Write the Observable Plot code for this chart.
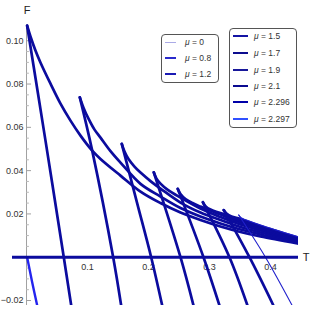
<!DOCTYPE html>
<html><head><meta charset="utf-8">
<script src="https://cdn.jsdelivr.net/npm/d3@7"></script>
<script src="https://cdn.jsdelivr.net/npm/@observablehq/plot@0.6"></script>
<style>
body{margin:0;background:#fff;}
#wrap{position:relative;width:311px;height:311px;font-family:"Liberation Sans",Arial,sans-serif;}
#wrap svg{display:block;}
.leg{position:absolute;background:#fff;border:1px solid #555;border-radius:4px;box-sizing:border-box;}
.sw{position:absolute;height:0;}
.lab{position:absolute;font-size:8.5px;color:#333;white-space:nowrap;line-height:10px;}
.lab i{font-style:italic;}
.axl{position:absolute;font-size:11px;color:#222;line-height:12px;width:12px;text-align:center;}
</style></head><body><div id="wrap"></div>
<script>
// mu values (legend labels)
const muLabels = ["0","0.8","1.2","1.5","1.7","1.9","2.1","2.296","2.297"];
const legendColors = ["#aaaae6","#2a2acc","#1b1bb4","#1414a4","#0c0c8e","#18189a","#0a0a90","#0000a8","#3050ff"];

// upper (small) branches: [T, F]
const upper08 = [[0.001,0.10694],[0.0066,0.10186],[0.0148,0.0954],[0.023,0.08986],[0.0393,0.08017],[0.0557,0.07094],[0.0721,0.06309],[0.0885,0.05617],[0.1077,0.04925],[0.1213,0.04542],[0.1541,0.03771],[0.1869,0.03032],[0.2197,0.02502],[0.2525,0.02063],[0.2852,0.01717],[0.318,0.01417],[0.3508,0.01163],[0.3836,0.00955],[0.4443,0.00632]];
const upper12 = [[0.0874,0.07385],[0.0934,0.06909],[0.1016,0.06401],[0.1115,0.05894],[0.1213,0.05525],[0.1377,0.04901],[0.1541,0.04371],[0.1869,0.03388],[0.2197,0.02802],[0.2525,0.02271],[0.2852,0.01878],[0.318,0.01555],[0.3508,0.01278],[0.3836,0.01048],[0.4443,0.00678]];
const upper15 = [[0.1562,0.05234],[0.1607,0.04878],[0.1672,0.04532],[0.177,0.04186],[0.1869,0.03909],[0.2033,0.03517],[0.2197,0.03171],[0.2525,0.02525],[0.2852,0.02063],[0.318,0.01717],[0.3508,0.01394],[0.3836,0.0114],[0.4443,0.00725]];
const upper17 = [[0.2087,0.03923],[0.2131,0.03632],[0.2197,0.03401],[0.2311,0.03125],[0.2525,0.02755],[0.2852,0.02248],[0.318,0.01855],[0.3508,0.01509],[0.3836,0.01232],[0.4443,0.00771]];
const upper19 = [[0.248,0.03157],[0.2525,0.02917],[0.2607,0.02686],[0.2721,0.02502],[0.2852,0.0234],[0.318,0.01971],[0.3508,0.01602],[0.3836,0.01302],[0.4443,0.00817]];
const upper21 = [[0.2893,0.02538],[0.2934,0.02363],[0.3016,0.02202],[0.318,0.0204],[0.3508,0.01694],[0.3836,0.01371],[0.4443,0.00863]];
const upper2296 = [[0.3234,0.02178],[0.3279,0.02017],[0.3361,0.01878],[0.3508,0.01763],[0.3836,0.0144],[0.4443,0.00909]];
const upper2297 = [[0.348,0.01948],[0.3525,0.01809],[0.3607,0.01717],[0.3836,0.01486],[0.4443,0.00955]];

// steep (large) branches: [T, F]
const steep0 = [[0.001,0],[0.009,-0.01122],[0.0175,-0.02229]];
const steep08 = [[0.001,0.10694],[0.0311,0.05386],[0.0611,0],[0.0733,-0.02229]];
const steep12 = [[0.0874,0.07385],[0.1077,0.04925],[0.1421,0],[0.1552,-0.02229]];
const steep15 = [[0.1562,0.05234],[0.1816,0.02478],[0.2044,0],[0.2225,-0.02229]];
const steep17 = [[0.2087,0.03923],[0.2525,0],[0.2738,-0.02229]];
const steep19 = [[0.248,0.03157],[0.2902,0],[0.3164,-0.02229]];
const steep21 = [[0.2893,0.02538],[0.3328,0],[0.3623,-0.02229]];
const steep2296 = [[0.3234,0.02178],[0.3656,0],[0.4049,-0.02229]];
const steep2297 = [[0.348,0.01948],[0.3918,0],[0.4356,-0.02229]];

// axis ticks
const yTicks = [-0.02,0.02,0.04,0.06,0.08,0.10];
const yTickLabels = ["\u22120.02","0.02","0.04","0.06","0.08","0.10"];
const xTicks = [0.1,0.2,0.3,0.4];
const xTickLabels = ["0.1","0.2","0.3","0.4"];

const navy = "#0b0b9e";
const curves = [
  {pts: steep0, color:"#2424ee", w:2.4},
  {pts: upper08, color:navy, w:2.7},{pts: steep08, color:navy, w:2.7},
  {pts: upper12, color:navy, w:2.7},{pts: steep12, color:navy, w:2.7},
  {pts: upper15, color:navy, w:2.7},{pts: steep15, color:navy, w:2.7},
  {pts: upper17, color:navy, w:2.7},{pts: steep17, color:navy, w:2.7},
  {pts: upper19, color:navy, w:2.7},{pts: steep19, color:navy, w:2.7},
  {pts: upper21, color:navy, w:2.7},{pts: steep21, color:navy, w:2.7},
  {pts: upper2296, color:navy, w:2.7},{pts: steep2296, color:navy, w:2.7},
  {pts: upper2297, color:"#2020cc", w:1.1},{pts: steep2297, color:"#2020cc", w:1.1}
];

const yMinor = d3.range(-0.02, 0.1051, 0.005).filter(v => Math.abs(Math.round(v/0.02)*0.02 - v) > 1e-6);

const chart = Plot.plot({
  width: 311, height: 311,
  marginLeft: 12, marginRight: 13, marginTop: 24, marginBottom: 6,
  x: {domain: [-0.023, 0.446], axis: null},
  y: {domain: [-0.0223, 0.1075], axis: null},
  style: {fontFamily: "Liberation Sans, Arial, sans-serif", fontSize: "9px", color: "#333", background: "#fff"},
  marks: [
    Plot.ruleX([0], {stroke: "#a0a0a0", strokeWidth: 1}),
    Plot.ruleY(yTicks.concat([0]), {y: d => d, x1: 0, x2: 0.0082, stroke: "#a0a0a0", strokeWidth: 1}),
    Plot.ruleY(yMinor, {y: d => d, x1: 0, x2: 0.0047, stroke: "#b8b8b8", strokeWidth: 1}),
    Plot.text(yTicks, {x: 0, y: d => d, text: (d, i) => yTickLabels[i], dx: -3, textAnchor: "end", fill: "#333", fontSize: 9}),
    Plot.text(xTicks, {x: d => d, y: 0, text: (d, i) => xTickLabels[i], dy: 10, fill: "#333", fontSize: 9}),
    ...curves.map(c => Plot.line(c.pts, {x: d => d[0], y: d => d[1], stroke: c.color, strokeWidth: c.w, curve: "catmull-rom", clip: true})),
    Plot.ruleY([0], {stroke: navy, strokeWidth: 3})
  ]
});
const wrap = document.getElementById("wrap");
wrap.appendChild(chart);

function addLabel(txt, cx, cy) {
  const t = document.createElement("div");
  t.className = "axl";
  t.textContent = txt;
  Object.assign(t.style, {left: (cx-6)+"px", top: (cy-6)+"px"});
  wrap.appendChild(t);
}
addLabel("F", 27, 10);
addLabel("T", 306, 257);

function legend(box, items, sw, textX, rowYs) {
  const d = document.createElement("div");
  d.className = "leg";
  Object.assign(d.style, {left: box[0]+"px", top: box[1]+"px", width: box[2]+"px", height: box[3]+"px"});
  wrap.appendChild(d);
  items.forEach((k, j) => {
    const s = document.createElement("div");
    s.className = "sw";
    const w = k === 0 ? 1.5 : 2;
    Object.assign(s.style, {left: sw[0]+"px", width: (sw[1]-sw[0])+"px", top: (rowYs[j]-w/2)+"px", borderTop: w+"px solid "+legendColors[k]});
    wrap.appendChild(s);
    const t = document.createElement("div");
    t.className = "lab";
    t.innerHTML = "<i>\u03bc</i> = " + muLabels[k];
    Object.assign(t.style, {left: textX+"px", top: (rowYs[j]-5.5)+"px"});
    wrap.appendChild(t);
  });
}
legend([160.5, 34, 58, 49], [0,1,2], [165,176], 185, [42.7,58.3,74]);
legend([229, 28, 68, 99.5], [3,4,5,6,7,8], [233,248], 254, [36,53.3,70,86,102.3,119]);
</script></body></html>
